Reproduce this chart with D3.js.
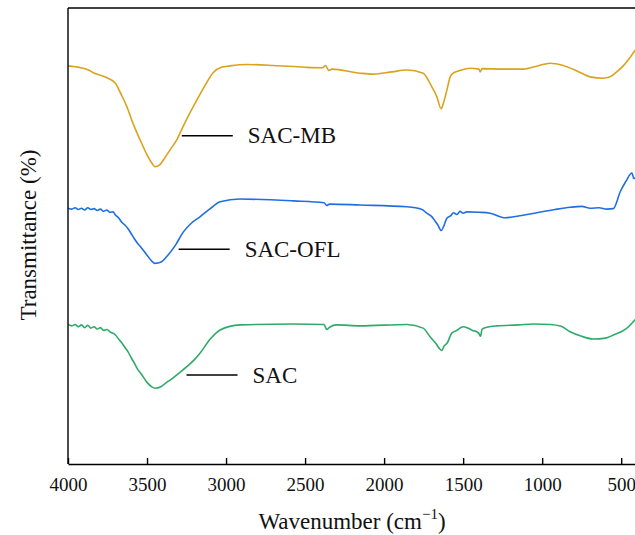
<!DOCTYPE html>
<html>
<head>
<meta charset="utf-8">
<script src="https://cdn.jsdelivr.net/npm/d3@7"></script>
<style>
  body { margin: 0; background: #fff; }
  svg { display: block; font-family: "Liberation Serif", "Times New Roman", serif; }
</style>
</head>
<body>
<svg id="chart"></svg>
<script>
const width = 635
const height = 535
const margin = {top: 8, right: -2, bottom: 71, left: 68}
const innerWidth = width - margin.left - margin.right
const innerHeight = height - margin.top - margin.bottom

// wavenumber (cm-1) / relative transmittance
const mbWave = [4000, 3920, 3870, 3840, 3800, 3760, 3703, 3660, 3628, 3590, 3544, 3500, 3470, 3449, 3420, 3390, 3354, 3310, 3272, 3230, 3185, 3130, 3082, 3030, 2975, 2869, 2700, 2500, 2390, 2370, 2350, 2330, 2152, 2070, 1950, 1856, 1753, 1698, 1667, 1639, 1625, 1603, 1582, 1563, 1520, 1456, 1400, 1392, 1380, 1247, 1120, 1030, 949, 867, 780, 696, 614, 570, 528, 490, 456, 411]
const mbValue = [87.3, 86.9, 86.4, 85.8, 85.3, 84.8, 83.6, 80.8, 78.4, 74.8, 71.1, 67.8, 66.0, 65.2, 65.6, 67.0, 68.9, 71.2, 74.0, 76.9, 79.8, 83.2, 85.8, 87.0, 87.3, 87.6, 87.4, 87.0, 86.9, 87.4, 86.3, 86.6, 85.7, 85.5, 86.0, 86.4, 85.7, 82.7, 80.6, 77.9, 79.1, 82.0, 84.9, 85.7, 86.3, 86.8, 86.6, 86.0, 86.7, 86.6, 86.6, 87.3, 87.9, 87.4, 86.2, 84.9, 84.6, 84.9, 86.0, 87.2, 88.6, 90.8]

const oflWave = [4000, 3975, 3955, 3935, 3915, 3895, 3875, 3855, 3835, 3815, 3795, 3775, 3755, 3735, 3715, 3700, 3680, 3660, 3640, 3620, 3600, 3580, 3560, 3540, 3500, 3470, 3449, 3410, 3375, 3320, 3270, 3220, 3165, 3100, 3038, 2911, 2574, 2380, 2363, 2345, 2152, 1856, 1760, 1730, 1700, 1680, 1660, 1639, 1620, 1603, 1580, 1560, 1540, 1520, 1500, 1477, 1400, 1329, 1234, 1130, 1034, 920, 823, 750, 696, 640, 591, 550, 506, 470, 432, 420, 411]
const oflValue = [56.1, 55.9, 56.2, 55.8, 56.1, 55.7, 56.2, 55.8, 56.0, 55.6, 55.9, 55.4, 55.7, 55.2, 55.3, 54.6, 54.0, 53.0, 52.4, 51.6, 50.5, 49.4, 48.4, 47.6, 45.8, 44.5, 44.0, 44.3, 45.5, 48.0, 50.9, 52.8, 54.2, 56.0, 57.5, 58.1, 57.7, 57.3, 56.7, 57.0, 56.8, 56.4, 55.8, 55.0, 54.3, 53.4, 52.4, 51.2, 52.4, 53.9, 54.4, 55.1, 54.7, 55.4, 55.0, 55.3, 55.2, 55.0, 54.0, 54.5, 55.1, 55.8, 56.3, 56.5, 56.1, 56.2, 55.9, 56.0, 59.7, 62.0, 63.8, 62.6, 62.7]

const sacWave = [4000, 3975, 3955, 3935, 3915, 3895, 3875, 3855, 3835, 3815, 3795, 3775, 3755, 3730, 3700, 3680, 3660, 3640, 3620, 3600, 3580, 3560, 3540, 3500, 3470, 3449, 3410, 3380, 3354, 3300, 3250, 3200, 3165, 3100, 3038, 2911, 2574, 2380, 2363, 2345, 2299, 2152, 1856, 1753, 1709, 1670, 1650, 1635, 1620, 1600, 1572, 1540, 1520, 1500, 1470, 1440, 1414, 1400, 1390, 1380, 1350, 1287, 1150, 1055, 949, 880, 823, 750, 675, 600, 549, 500, 464, 411]
const sacValue = [30.6, 30.3, 30.6, 30.1, 30.5, 29.9, 30.4, 29.8, 30.1, 29.6, 29.9, 29.3, 29.5, 28.9, 28.3, 27.4, 26.6, 25.6, 24.6, 23.3, 22.1, 20.8, 19.9, 17.9, 16.9, 16.6, 17.0, 17.8, 18.4, 19.9, 21.3, 22.9, 24.3, 27.4, 29.4, 30.5, 30.7, 30.6, 29.5, 30.0, 30.5, 30.3, 30.6, 29.8, 27.9, 26.3, 25.3, 24.9, 25.9, 26.6, 28.7, 29.3, 29.8, 30.1, 29.8, 29.3, 29.0, 28.6, 28.0, 29.6, 30.0, 30.3, 30.5, 30.7, 30.6, 30.2, 29.0, 28.0, 27.4, 27.6, 28.3, 29.0, 29.8, 31.7]

const seriesNames = ['SAC-MB', 'SAC-OFL', 'SAC']
const seriesColors = ['#d9a31c', '#1f6fe3', '#2eab6b']
// label anchors: wavenumber where the short line starts, value level
const labelWave = [3280, 3300, 3250]
const labelValue = [72.0, 47.1, 19.5]

const xTicks = [4000, 3500, 3000, 2500, 2000, 1500, 1000, 500]

const series = [
  {name: seriesNames[0], color: seriesColors[0], data: mbWave.map((w, i) => ({w, v: mbValue[i]}))},
  {name: seriesNames[1], color: seriesColors[1], data: oflWave.map((w, i) => ({w, v: oflValue[i]}))},
  {name: seriesNames[2], color: seriesColors[2], data: sacWave.map((w, i) => ({w, v: sacValue[i]}))}
]

const svg = d3.select('#chart')
  .attr('width', width)
  .attr('height', height)
  .style('background', '#fff')

const Xscale = d3.scaleLinear().domain([4000, 400]).range([0, innerWidth])
const Yscale = d3.scaleLinear().domain([0, 100]).range([innerHeight, 0])

const g = svg.append('g').attr('transform', `translate(${margin.left},${margin.top})`)

g.append('clipPath').attr('id', 'clip')
  .append('rect').attr('width', innerWidth).attr('height', innerHeight)

// lines
const line = d3.line()
  .x(d => Xscale(d.w))
  .y(d => Yscale(d.v))
  .curve(d3.curveMonotoneX)

g.append('g').attr('clip-path', 'url(#clip)')
  .selectAll('path')
  .data(series)
  .join('path')
  .attr('d', d => line(d.data))
  .attr('fill', 'none')
  .attr('stroke', d => d.color)
  .attr('stroke-width', 1.6)
  .attr('stroke-linejoin', 'round')

// labels
const labels = g.append('g')
series.forEach((s, i) => {
  const x0 = Xscale(labelWave[i])
  const y0 = Yscale(labelValue[i])
  labels.append('line')
    .attr('x1', x0).attr('x2', x0 + 51)
    .attr('y1', y0).attr('y2', y0)
    .attr('stroke', '#000').attr('stroke-width', 1.5)
  labels.append('text')
    .attr('x', x0 + 66).attr('y', y0 + 7.5)
    .attr('font-size', 23)
    .attr('fill', '#111')
    .text(s.name)
})

// axes
const xAxis = d3.axisBottom(Xscale)
  .tickValues(xTicks)
  .tickFormat(d3.format('d'))
  .tickSizeInner(-6)
  .tickSizeOuter(0)
  .tickPadding(14)

const xg = g.append('g').attr('transform', `translate(0,${innerHeight})`).call(xAxis)
  .attr('font-family', '"Liberation Serif", serif')
  .attr('font-size', 19)
xg.select('.domain').attr('stroke-width', 1.4)
xg.selectAll('.tick line').attr('stroke-width', 1.4)
xg.selectAll('.tick text').attr('fill', '#111')

g.append('line').attr('x1', 0).attr('x2', 0).attr('y1', 0).attr('y2', innerHeight)
  .attr('stroke', '#000').attr('stroke-width', 1.4)
g.append('line').attr('x1', 0).attr('x2', innerWidth).attr('y1', 0).attr('y2', 0)
  .attr('stroke', '#000').attr('stroke-width', 1.4)
g.append('line').attr('x1', innerWidth).attr('x2', innerWidth).attr('y1', 0).attr('y2', innerHeight)
  .attr('stroke', '#000').attr('stroke-width', 1.4)

// titles
const xt = svg.append('text')
  .attr('x', 352).attr('y', 529)
  .attr('text-anchor', 'middle')
  .attr('font-size', 23)
  .attr('fill', '#111')
xt.append('tspan').text('Wavenumber (cm')
xt.append('tspan').text('\u22121').attr('font-size', 15).attr('dy', -10)
xt.append('tspan').text(')').attr('dy', 10)

svg.append('text')
  .attr('transform', 'translate(36,235) rotate(-90)')
  .attr('text-anchor', 'middle')
  .attr('font-size', 23)
  .attr('fill', '#111')
  .text('Transmittance (%)')
</script>
</body>
</html>
